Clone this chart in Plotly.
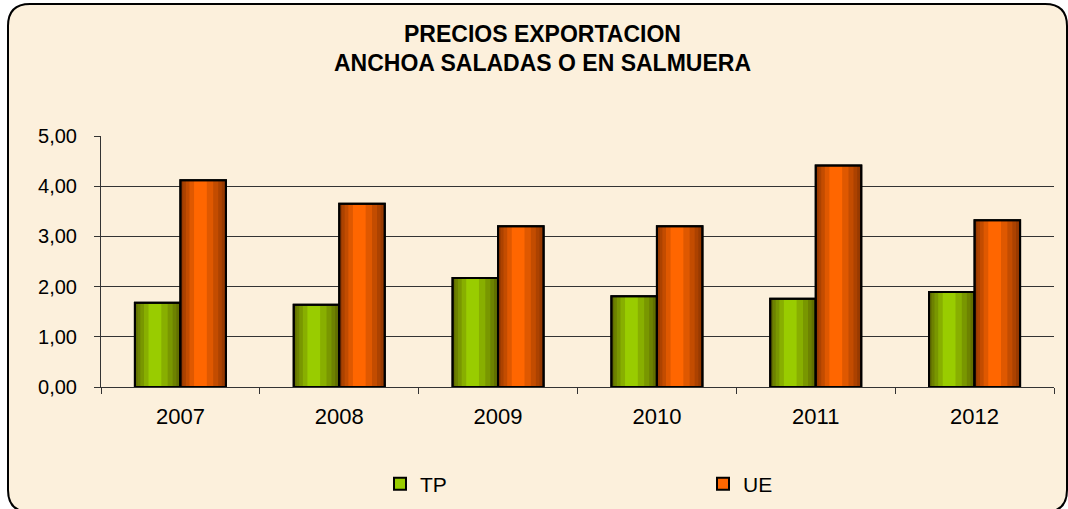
import plotly.graph_objects as go

# ---- data ----
years = ["2007", "2008", "2009", "2010", "2011", "2012"]
tp_values = [1.68, 1.64, 2.17, 1.81, 1.76, 1.89]
ue_values = [4.12, 3.65, 3.20, 3.20, 4.41, 3.32]
y_ticks = [0, 1, 2, 3, 4, 5]
title_line1 = "PRECIOS EXPORTACION"
title_line2 = "ANCHOA SALADAS O EN SALMUERA"

# ---- styling ----
FONT = "Liberation Sans, Arial, sans-serif"
GREEN = "#99CC00"
ORANGE = "#FF6600"
BG = "#FCF0DC"
W = 0.2866  # bar width in category units

# plot area in pixels (for paper-coordinate conversions)
L, R, T, B = 101, 1054, 136, 387


def px_x(px):
    return (px - L) / (R - L)


def px_y(py):
    return (B - py) / (B - T)


xpos = list(range(len(years)))

fig = go.Figure()


def add_series(name, values, color, offset):
    # main bar (legend)
    fig.add_trace(go.Bar(
        x=xpos, y=values, name=name, offset=offset, width=W,
        marker=dict(color=color, line=dict(color="black", width=2)),
        hoverinfo="y",
    ))
    # shading strips to imitate cylinder gradient
    left_fracs = [0.30, 0.20, 0.12, 0.06, 0.02]
    right_fracs = [0.42, 0.28, 0.17, 0.09, 0.03]
    for f in left_fracs:
        fig.add_trace(go.Bar(
            x=xpos, y=values, offset=offset, width=W * f, showlegend=False,
            marker=dict(color="rgba(40,15,0,0.15)", line=dict(width=0)),
            hoverinfo="skip",
        ))
    for f in right_fracs:
        fig.add_trace(go.Bar(
            x=xpos, y=values, offset=offset + W * (1 - f), width=W * f, showlegend=False,
            marker=dict(color="rgba(40,15,0,0.15)", line=dict(width=0)),
            hoverinfo="skip",
        ))
    # outline on top
    fig.add_trace(go.Bar(
        x=xpos, y=values, offset=offset, width=W, showlegend=False,
        marker=dict(color="rgba(0,0,0,0)", line=dict(color="black", width=2)),
        hoverinfo="skip",
    ))


add_series("TP", tp_values, GREEN, -W)
add_series("UE", ue_values, ORANGE, 0)

# rounded border path (pixels -> paper coords)
x0, x1, y0, y1, r = 8, 1067, 4, 512, 22
path = (
    f"M {px_x(x0 + r)},{px_y(y0)} L {px_x(x1 - r)},{px_y(y0)} "
    f"Q {px_x(x1)},{px_y(y0)} {px_x(x1)},{px_y(y0 + r)} "
    f"L {px_x(x1)},{px_y(y1 - r)} Q {px_x(x1)},{px_y(y1)} {px_x(x1 - r)},{px_y(y1)} "
    f"L {px_x(x0 + r)},{px_y(y1)} Q {px_x(x0)},{px_y(y1)} {px_x(x0)},{px_y(y1 - r)} "
    f"L {px_x(x0)},{px_y(y0 + r)} Q {px_x(x0)},{px_y(y0)} {px_x(x0 + r)},{px_y(y0)} Z"
)

fig.update_layout(
    width=1068, height=509,
    margin=dict(l=L, r=1068 - R, t=T, b=509 - B, autoexpand=False),
    paper_bgcolor="white",
    plot_bgcolor="rgba(0,0,0,0)",
    barmode="overlay",
    separators=",.",
    font=dict(family=FONT, color="black", size=21),
    shapes=[dict(type="path", path=path, xref="paper", yref="paper",
                 fillcolor=BG, line=dict(color="black", width=2), layer="below")],
    annotations=[
        dict(text=f"<b>{title_line1}</b>", x=px_x(542), y=px_y(34), xref="paper", yref="paper",
             xanchor="center", yanchor="middle", showarrow=False,
             font=dict(family=FONT, size=23, color="black")),
        dict(text=f"<b>{title_line2}</b>", x=px_x(542), y=px_y(63), xref="paper", yref="paper",
             xanchor="center", yanchor="middle", showarrow=False,
             font=dict(family=FONT, size=23, color="black")),
    ],
    legend=dict(orientation="h", x=px_x(380), y=px_y(484), xanchor="left", yanchor="middle",
                bgcolor="rgba(0,0,0,0)", entrywidth=278, entrywidthmode="pixels",
                font=dict(family=FONT, size=21, color="black")),
    showlegend=True,
    xaxis=dict(
        range=[-0.5, len(years) - 0.5], tickmode="array", tickvals=xpos, ticktext=years,
        ticks="", showgrid=False, zeroline=False,
        showline=True, linecolor="#333333", linewidth=1,
        tickfont=dict(family=FONT, size=22, color="black"),
        ticklabelstandoff=10,
        minor=dict(tickmode="array", tickvals=[i - 0.5 for i in range(len(years) + 1)],
                   ticks="outside", ticklen=6, tickcolor="#333333", tickwidth=1, showgrid=False),
        fixedrange=True,
    ),
    yaxis=dict(
        range=[0, 5], tickmode="array", tickvals=y_ticks, tickformat=".2f",
        ticks="outside", ticklen=6, tickcolor="#333333", tickwidth=1,
        showgrid=True, gridcolor="#333333", gridwidth=1.2,
        zeroline=False, showline=True, linecolor="#333333", linewidth=1,
        tickfont=dict(family=FONT, size=20, color="black"),
        ticklabelstandoff=13,
        fixedrange=True,
    ),
)

fig.write_html("out.html", config={"displayModeBar": False},
               post_script="document.body.style.margin='0';")
